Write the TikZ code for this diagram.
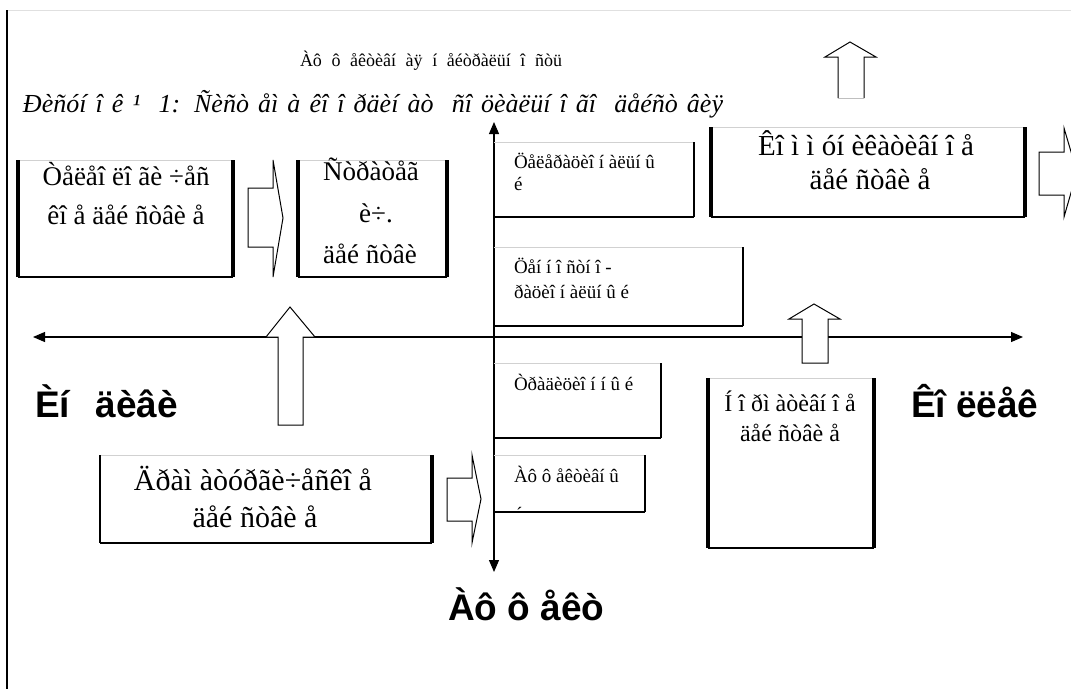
\documentclass[tikz,border=0pt]{standalone}
\usepackage{fontspec}
\setmainfont{Liberation Serif}
\newfontfamily\lblsans{Liberation Sans}
\usetikzlibrary{arrows.meta}
\newcommand\drawboxedges[3]{%
  \draw[topedge] (#1.north west) -- (#1.north east);
  \draw[botedge] (#1.south west) -- (#1.south east);
  \draw[#2] (#1.north west) -- (#1.south west);
  \draw[#3] (#1.north east) -- (#1.south east);}
\begin{document}
\begin{tikzpicture}[x=1pt,y=-1pt,
  boxarea/.style={draw=none,inner sep=0pt,outer sep=0pt,anchor=north west},
  topedge/.style={draw=black!18,line width=0.6pt},
  botedge/.style={draw=black,line width=1.5pt},
  sideedge/.style={draw=black,line width=1.3pt},
  thickedge/.style={draw=black,line width=3.6pt},
  midedge/.style={draw=black,line width=2.2pt},
  noedge/.style={draw=none},
  blockarrow/.style={draw=black,fill=white,line width=1pt,line join=miter},
  axisline/.style={draw=black,line width=1.1pt,arrows={Triangle[length=12pt,width=10pt]-Triangle[length=12pt,width=10pt]}},
  txt/.style={inner sep=0pt,outer sep=0pt,anchor=base},
  ltxt/.style={inner sep=0pt,outer sep=0pt,anchor=base west},
  bigtxt/.style={font=\fontsize{27}{30}\selectfont},
  hugetxt/.style={font=\fontsize{29}{32}\selectfont},
  widetxt/.style={font=\fontsize{30}{33}\selectfont},
  normtxt/.style={font=\fontsize{24}{27}\selectfont},
  smalltxt/.style={font=\fontsize{19}{22}\selectfont},
  lbltxt/.style={font=\lblsans\bfseries\fontsize{37}{40}\selectfont}
]
\useasboundingbox (0,0) rectangle (1071,689);
\clip (0,0) rectangle (1071,689);
\fill[white] (0,0) rectangle (1071,689);

% frame
\coordinate (frTL) at (7,10);
\coordinate (frBL) at (7,689);
\coordinate (frTR) at (1071,10);
\draw[black!12,line width=0.6pt] (frTL) -- (frTR);
\draw[black,line width=2.4pt] (frTL) -- (frBL);

% header texts
\node[ltxt,font=\fontsize{18}{21}\selectfont] (toptext) at (300,66) {\makebox[262pt][s]{Àô ô åêòèâí àÿ í åéòðàëüí î ñòü}};
\node[ltxt,font=\itshape\fontsize{26}{30}\selectfont] (title) at (23,112) {\makebox[700pt][s]{Ðèñóí î ê ¹\ \ 1: Ñèñò åì à êî î ðäèí àò\ \ ñî öèàëüí î ãî\ \ äåéñò âèÿ}};

% boxes
\node[boxarea,minimum width=215pt,minimum height=117pt] (b1) at (18,160) {};
\node[boxarea,minimum width=149pt,minimum height=117pt] (b2) at (298,160) {};
\node[boxarea,minimum width=200pt,minimum height=75pt] (b3) at (494,142) {};
\node[boxarea,minimum width=249pt,minimum height=79pt] (b6) at (494,247) {};
\node[boxarea,minimum width=167pt,minimum height=75pt] (b7) at (494,363) {};
\node[boxarea,minimum width=151pt,minimum height=57pt] (b8) at (494,455) {};
\node[boxarea,minimum width=314pt,minimum height=90pt] (b5) at (711,127) {};
\node[boxarea,minimum width=166pt,minimum height=170pt] (b9) at (708,378) {};
\node[boxarea,minimum width=332pt,minimum height=88pt] (b4) at (100,455) {};

% axes
\coordinate (vt) at (494,122);
\coordinate (vb) at (494,572);
\coordinate (hl) at (33,337);
\coordinate (hr) at (1023,337);
\draw[axisline] (hl) -- (hr);
\draw[axisline] (vt) -- (vb);

% block arrows
\draw[blockarrow] (248,188) -- (273,188) -- (273,160) -- (283,218) -- (273,277) -- (273,247) -- (248,247) -- cycle;
\draw[blockarrow] (447,478) -- (472,478) -- (472,455) -- (481,499) -- (472,543) -- (472,521) -- (447,521) -- cycle;
\draw[blockarrow] (1039,152) -- (1064,152) -- (1064,128) -- (1077,172) -- (1064,217) -- (1064,195) -- (1039,195) -- cycle;
\draw[blockarrow] (278,425) -- (278,337) -- (266,337) -- (290,307) -- (315,337) -- (303,337) -- (303,425) -- cycle;
\draw[blockarrow] (802,363) -- (802,319) -- (789,319) -- (814,304) -- (840,319) -- (828,319) -- (828,363) -- cycle;
\draw[blockarrow] (838,98) -- (838,57) -- (825,57) -- (850,42) -- (876,57) -- (864,57) -- (864,98);
\draw[black!25,line width=0.6pt] (838,98) -- (864,98);

% box edges
\drawboxedges{b1}{thickedge}{thickedge}
\drawboxedges{b2}{thickedge}{thickedge}
\drawboxedges{b3}{noedge}{sideedge}
\drawboxedges{b6}{noedge}{sideedge}
\drawboxedges{b7}{noedge}{sideedge}
\drawboxedges{b8}{noedge}{sideedge}
\drawboxedges{b5}{thickedge}{thickedge}
\drawboxedges{b9}{thickedge}{thickedge}
\drawboxedges{b4}{midedge}{thickedge}

% box texts
\node[txt,bigtxt] (b1a) at (126,185) {Òåëåî ëî ãè ÷åñ};
\node[txt,bigtxt] (b1b) at (126,224) {êî å äåé ñòâè å};
\node[txt,bigtxt] (b2a) at (371,180) {Ñòðàòåã};
\node[txt,bigtxt] (b2b) at (376,222) {è÷.};
\node[txt,bigtxt] (b2c) at (370,263) {äåé ñòâè};
\node[ltxt,smalltxt] (b3a) at (514,168) {Öåëåðàöèî í àëüí û};
\node[ltxt,smalltxt] (b3b) at (514,190) {é};
\node[ltxt,smalltxt] (b6a) at (514,273) {Öåí í î ñòí î -};
\node[ltxt,smalltxt] (b6b) at (514,298) {ðàöèî í àëüí û é};
\node[ltxt,smalltxt] (b7a) at (514,390) {Òðàäèöèî í í û é};
\node[ltxt,smalltxt] (b8a) at (514,482) {Àô ô åêòèâí û};
\begin{scope}
\clip (b8.north west) rectangle (b8.south east);
\node[ltxt,smalltxt] (b8b) at (514,520) {é};
\end{scope}
\node[txt,hugetxt] (b5a) at (866,155) {Êî ì ì óí èêàòèâí î å};
\node[txt,hugetxt] (b5b) at (870,189) {äåé ñòâè å};
\node[txt,normtxt] (b9a) at (790,411) {Í î ðì àòèâí î å};
\node[txt,normtxt] (b9b) at (790,441) {äåé ñòâè å};
\node[txt,widetxt] (b4a) at (253,490) {Äðàì àòóðãè÷åñêî å};
\node[txt,widetxt] (b4b) at (255,527) {äåé ñòâè å};

% axis labels
\node[ltxt,lbltxt] (lblL) at (35,417) {\makebox[143pt][s]{Èí äèâè}};
\node[ltxt,lbltxt] (lblR) at (911,417) {Êî ëëåê};
\node[ltxt,lbltxt] (lblB) at (448,620) {Àô ô åêò};
\end{tikzpicture}
\end{document}
